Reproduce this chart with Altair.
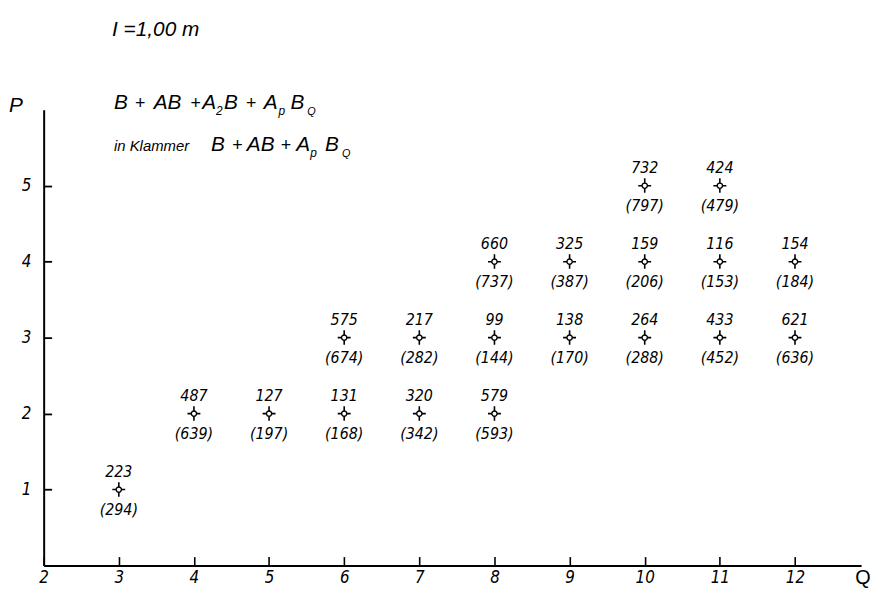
import altair as alt
import pandas as pd

# ---- data ----
Q = [3, 4, 5, 6, 6, 7, 7, 8, 8, 8, 9, 9, 10, 10, 10, 11, 11, 11, 12, 12]
P = [1, 2, 2, 2, 3, 2, 3, 2, 3, 4, 3, 4, 3, 4, 5, 3, 4, 5, 3, 4]
total = [223, 487, 127, 131, 575, 320, 217, 579, 99, 660, 138, 325,
         264, 159, 732, 433, 116, 424, 621, 154]
klammer = [294, 639, 197, 168, 674, 342, 282, 593, 144, 737, 170, 387,
           288, 206, 797, 452, 153, 479, 636, 184]
x_label_values = [2, 3, 4, 5, 6, 7, 8, 9, 10, 11, 12]
y_tick_values = [1, 2, 3, 4, 5]

W, H = 825, 460
FONT = "DejaVu Sans Condensed, Liberation Sans Narrow, Liberation Sans"
FONT2 = "Liberation Sans"

df = pd.DataFrame({
    "Q": Q, "P": P,
    "top": [str(v) for v in total],
    "bottom": ["(" + str(v) + ")" for v in klammer],
})

xs = alt.Scale(domain=[2, 12.88], nice=False, zero=False)
ys = alt.Scale(domain=[0, 6], nice=False, zero=False)

# ticks point inward (negative size given as an expression); label padding
# compensates for the negative tick size
xaxis = alt.Axis(values=x_label_values, format="d", ticks=True,
                 tickSize=alt.ExprRef(expr="-9"), tickWidth=1.6, tickColor="black",
                 grid=False, domain=True, domainColor="black", domainWidth=2,
                 labelFont=FONT, labelFontStyle="italic", labelFontSize=17,
                 labelColor="black", labelPadding=13, title=None, labelFlush=False)
yaxis = alt.Axis(values=y_tick_values, format="d", ticks=True,
                 tickSize=alt.ExprRef(expr="-8"), tickWidth=1.8, tickColor="black",
                 grid=False, domain=True, domainColor="black", domainWidth=2,
                 labelFont=FONT, labelFontStyle="italic", labelFontSize=17,
                 labelColor="black", labelPadding=21, title=None)

base = alt.Chart(df)

cross = base.mark_point(
    shape="M-1,0H-0.35M0.35,0H1M0,-1.15V-0.35M0,0.35V1.1",
    size=169, filled=False, stroke="black", strokeWidth=1.6, opacity=1,
).encode(x=alt.X("Q:Q", scale=xs, axis=xaxis), y=alt.Y("P:Q", scale=ys, axis=yaxis))

circ = base.mark_point(
    shape="circle", size=28, filled=True, fill="white", stroke="black",
    strokeWidth=1.4, opacity=1,
).encode(x=alt.X("Q:Q", scale=xs), y=alt.Y("P:Q", scale=ys))

top_txt = base.mark_text(dy=-18, font=FONT, fontStyle="italic", fontSize=16,
                         color="black").encode(
    x=alt.X("Q:Q", scale=xs), y=alt.Y("P:Q", scale=ys), text="top:N")

bot_txt = base.mark_text(dy=21, font=FONT, fontStyle="italic", fontSize=16,
                         color="black").encode(
    x=alt.X("Q:Q", scale=xs), y=alt.Y("P:Q", scale=ys), text="bottom:N")

# ---- annotation text (token, x px, baseline px, size) relative to plot origin ----
ann = [
    ("I =1,00 m", 69, -74, 21),
    ("B", 71, -1, 21), ("+", 92, -1, 18), ("AB", 111, -1, 21), ("+", 148, -1, 18),
    ("A", 160, -1, 21), ("2", 174, 5, 12), ("B", 182, -1, 21), ("+", 204, -1, 18),
    ("A", 222, -1, 21), ("p", 237, 5, 12), ("B", 249, -1, 21), ("Q", 266, 5, 11),
    ("in Klammer", 71, 42, 15),
    ("B", 169, 42, 21), ("+", 190, 42, 18), ("AB", 205, 42, 21), ("+", 239, 42, 18),
    ("A", 255, 42, 21), ("p", 269, 48, 12), ("B", 284, 42, 21), ("Q", 301, 48, 11),
    ("P", -35, 2, 21),
]
layers = []
for t, x, y, s in ann:
    layers.append(
        alt.Chart(pd.DataFrame({"a": [0]})).mark_text(
            align="left", baseline="alphabetic", font=FONT2, fontStyle="italic",
            fontSize=s, color="black",
        ).encode(x=alt.value(x), y=alt.value(y), text=alt.value(t))
    )
layers.append(
    alt.Chart(pd.DataFrame({"a": [0]})).mark_text(
        align="left", baseline="alphabetic", font=FONT2, fontSize=20, color="black",
    ).encode(x=alt.value(W - 6), y=alt.value(H + 19), text=alt.value("Q"))
)

chart = alt.layer(cross, circ, top_txt, bot_txt, *layers).properties(
    width=W, height=H,
    autosize=alt.AutoSizeParams(type="none"),
    padding={"left": 36, "top": 100, "right": 11, "bottom": 22},
    background="white",
).configure_view(stroke=None)

chart.save("out.html", embed_options={"renderer": "svg", "actions": False})
